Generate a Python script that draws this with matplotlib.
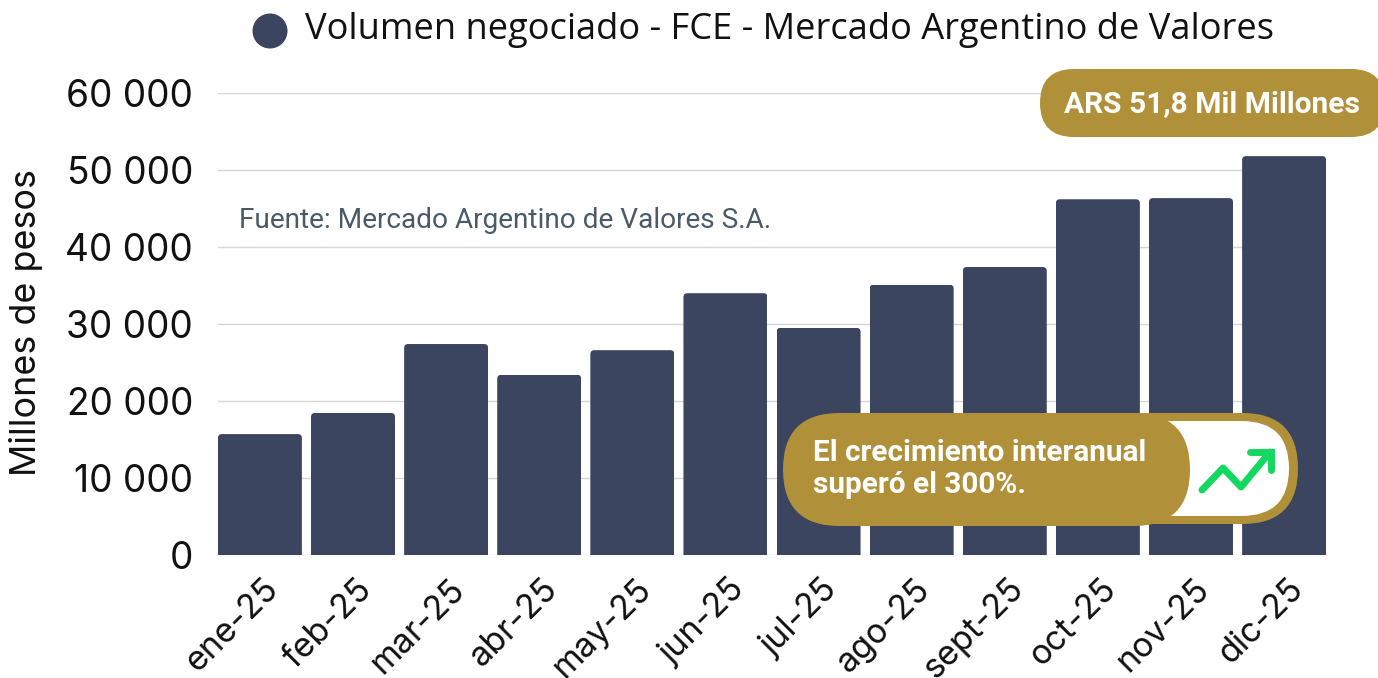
import matplotlib
matplotlib.use("Agg")
import matplotlib.pyplot as plt
from matplotlib.patches import FancyBboxPatch, Circle
from matplotlib.transforms import ScaledTranslation

months = ["ene-25", "feb-25", "mar-25", "abr-25", "may-25", "jun-25", "jul-25",
          "ago-25", "sept-25", "oct-25", "nov-25", "dic-25"]
volumen = [15700, 18450, 27400, 23400, 26600, 34000, 29500, 35100, 37400, 46200, 46350, 51800]
yticks = [0, 10000, 20000, 30000, 40000, 50000, 60000]
ylabels = ["0", "10 000", "20 000", "30 000", "40 000", "50 000", "60 000"]
title = "Volumen negociado - FCE - Mercado Argentino de Valores"
source = "Fuente: Mercado Argentino de Valores S.A."
ylabel = "Millones de pesos"
pill_top = "ARS 51,8 Mil Millones"
pill_note = "El crecimiento interanual\nsuperó el 300%."

NAVY = "#3B4560"
GOLD = "#B0913A"
W, H = 1378, 678
fig = plt.figure(figsize=(W / 100, H / 100), dpi=100, facecolor="white")
ax = fig.add_axes([218 / W, 1 - 555 / H, (1326 - 218) / W, (555 - 93) / H])
ax.set_xlim(-0.45, 11.45)
ax.set_ylim(0, 60000)
ax.set_axisbelow(True)
ax.grid(axis="y", color="#D3D6DA", lw=1.0)
ax.grid(axis="x", visible=False)
for s in ax.spines.values():
    s.set_visible(False)
bars = ax.bar(range(len(months)), volumen, width=0.902, color=NAVY, zorder=2)
asp = (60000 / 462) / (11.9 / 1108)
for b in bars:
    x0, w, h = b.get_x(), b.get_width(), b.get_height()
    r = 4 * 11.9 / 1108
    clip = FancyBboxPatch((x0 + r, -5000), w - 2 * r, h + 5000 - r * asp,
                          boxstyle=f"round,pad={r},rounding_size={r}",
                          mutation_aspect=asp, transform=ax.transData)
    b.set_clip_path(clip)
ax.set_xticks(range(len(months)))
ax.set_xticklabels(months, rotation=45, ha="right", rotation_mode="anchor",
                   fontsize=24.5, family="Inter", color="#111111")
ax.set_yticks(yticks)
ax.set_yticklabels(ylabels, fontsize=26.7, family="Inter", color="#111111")
ax.tick_params(axis="both", length=0)
ax.tick_params(axis="y", pad=18)
ax.tick_params(axis="x", pad=13)
shift = ScaledTranslation(2.5 / 100, 0, fig.dpi_scale_trans)
for t in ax.get_xticklabels():
    t.set_transform(t.get_transform() + shift)

ov = fig.add_axes([0, 0, 1, 1], facecolor="none", zorder=5)
ov.set_xlim(0, W)
ov.set_ylim(H, 0)
ov.axis("off")

def pill(x0, y0, x1, y1, color, z=6):
    r = (y1 - y0) / 2
    ov.add_patch(FancyBboxPatch((x0 + r, y0 + r), x1 - x0 - 2 * r, 0.001,
                                boxstyle=f"round,pad={r},rounding_size={r}",
                                fc=color, ec="none", zorder=z))

ov.add_patch(Circle((270, 31), 17.5, fc=NAVY, ec="none"))
ov.text(305, 30, title, fontsize=26.1, family="Open Sans", color="#111111",
        va="center", ha="left")
ov.text(26, 323, ylabel, rotation=90, fontsize=25.8, family="Inter",
        color="#111111", va="center", ha="center")
ov.text(239, 220, source, fontsize=20.15, family="Roboto", color="#4A5A68",
        va="center", ha="left")

pill(1040, 69, 1385, 137, GOLD)
ov.text(1064, 104, pill_top, fontsize=21.5, family="Roboto", weight="bold",
        color="white", va="center", ha="left", zorder=7)

pill(1080, 413, 1298, 524, GOLD, z=6)
pill(1100, 421, 1289, 516, "white", z=7)
pill(783, 413, 1190, 526, GOLD, z=8)
ov.text(813, 469, pill_note, fontsize=21.4, family="Roboto", weight="bold",
        color="white", va="center", ha="left", linespacing=1.2, zorder=9)
GREEN = "#12D860"
ov.plot([1202, 1223, 1241, 1270], [490, 468, 487, 452], color=GREEN, lw=5,
        solid_capstyle="round", solid_joinstyle="round", zorder=9)
ov.plot([1250, 1271, 1271], [452, 452, 470], color=GREEN, lw=5,
        solid_capstyle="round", solid_joinstyle="miter", zorder=9)

fig.savefig("out.png", dpi=100)
